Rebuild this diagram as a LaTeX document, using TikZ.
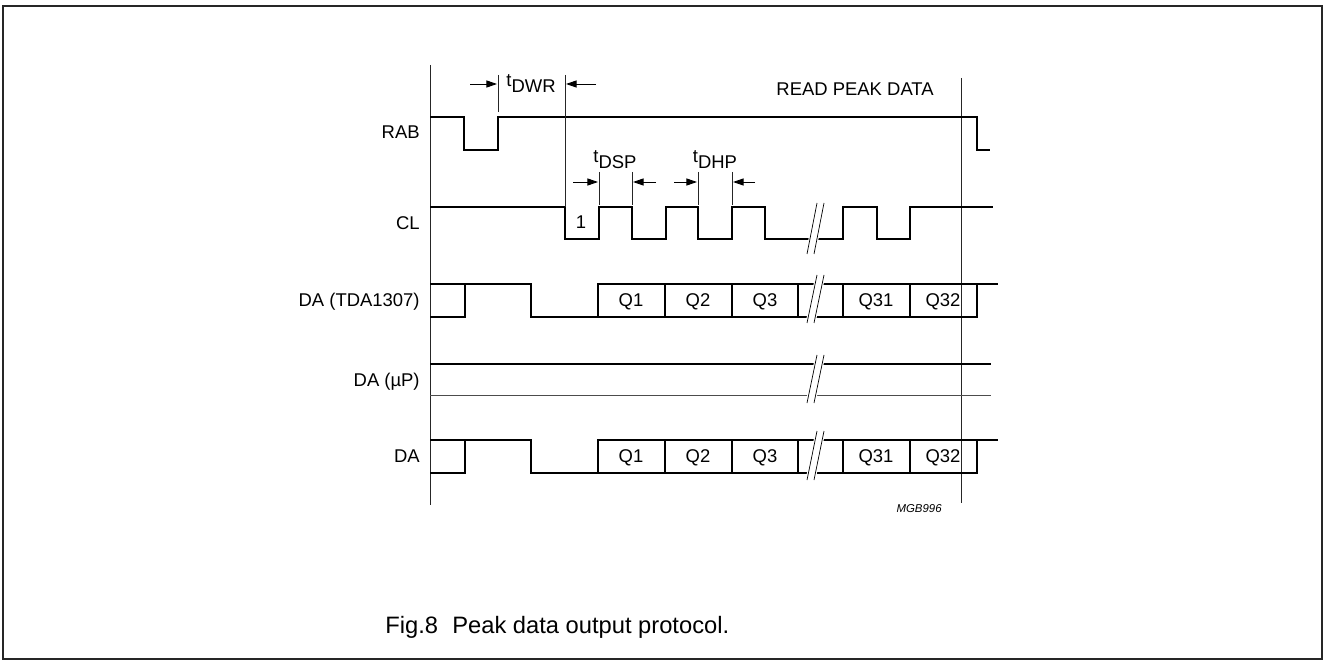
\documentclass[tikz,border=0pt]{standalone}
\usepackage{fontspec}
\setmainfont{Liberation Sans}
\usetikzlibrary{arrows.meta}
% break mark across a signal: x, top, bottom
\newcommand{\sigbreak}[3]{%
  \fill[white] (#1-1.5,#3) -- (#1+8.5,#2) -- (#1+18.5,#2) -- (#1+8.5,#3) -- cycle;
  \draw[thin] (#1,#3) -- (#1+10,#2);
  \draw[thin] (#1+7,#3) -- (#1+17,#2);
}

\begin{document}
\begin{tikzpicture}[
  x=0.02cm,y=-0.02cm,
  sig/.style={line width=1.1pt,line join=miter},
  guide/.style={line width=0.55pt,black!85},
  lbl/.style={font=\fontsize{10.5}{12}\selectfont,anchor=base east,inner sep=0pt},
  cell/.style={font=\fontsize{10.5}{12}\selectfont,anchor=base,inner sep=0pt},
  dim/.style={-{Triangle[length=6pt,width=4pt]},line width=0.55pt},
  tlbl/.style={font=\fontsize{10.5}{12}\selectfont,anchor=base,inner sep=0pt}
]
  \useasboundingbox (0,0) rectangle (1324,662);
  \draw[line width=1.3pt,black!85] (3,6) rectangle (1322,659);
  % Signal names
  \node[lbl] (nrab) at (420,139) {RAB};
  \node[lbl] (ncl) at (420,229) {CL};
  \node[lbl] (ndat) at (420,306) {DA (TDA1307)};
  \node[lbl] (ndap) at (420,386) {DA (µP)};
  \node[lbl] (nda) at (420,462) {DA};
  % Time axes
  \draw[guide] (430,65) -- (430,505);
  \draw[guide] (961,78) -- (961,503);
  % RAB
  \draw[sig] (430,117) -- (464,117) -- (464,150) -- (498,150) -- (498,117) -- (977,117) -- (977,150) -- (990,150);
  % CL
  \draw[sig] (430,207) -- (565,207) -- (565,239) -- (599,239) -- (599,207) -- (632,207) -- (632,239)
    -- (666,239) -- (666,207) -- (698,207) -- (698,239) -- (732,239) -- (732,207) -- (765,207) -- (765,239)
    -- (843,239) -- (843,207) -- (877,207) -- (877,239) -- (910,239) -- (910,207) -- (993,207);
  \node[cell] (one) at (581,228) {1};
  % DA (TDA1307)
  \draw[sig] (430,317) -- (465,317) -- (465,284);
  \draw[sig] (430,284) -- (531,284) -- (531,317) -- (977,317) -- (977,284);
  \draw[sig] (598,317) -- (598,284) -- (998,284);
  \foreach \x in {665,732,798,843,910}
    \draw[sig] (\x,284) -- (\x,317);
  \node[cell] (qa1) at (631,306) {Q1};
  \node[cell] (qa2) at (698,306) {Q2};
  \node[cell] (qa3) at (765,306) {Q3};
  \node[cell] (qa31) at (876,306) {Q31};
  \node[cell] (qa32) at (943,306) {Q32};
  % DA (uP)
  \draw[sig] (430,364) -- (991,364);
  \draw[guide,black!70] (430,395) -- (991,395);
  % DA
  \draw[sig] (430,473) -- (465,473) -- (465,440);
  \draw[sig] (430,440) -- (531,440) -- (531,473) -- (977,473) -- (977,440);
  \draw[sig] (598,473) -- (598,440) -- (998,440);
  \foreach \x in {665,732,798,843,910}
    \draw[sig] (\x,440) -- (\x,473);
  \node[cell] (qb1) at (631,462) {Q1};
  \node[cell] (qb2) at (698,462) {Q2};
  \node[cell] (qb3) at (765,462) {Q3};
  \node[cell] (qb31) at (876,462) {Q31};
  \node[cell] (qb32) at (943,462) {Q32};
  % Breaks
  \sigbreak{807}{203}{254}
  \sigbreak{807}{275}{323}
  \sigbreak{807}{355}{403}
  \sigbreak{807}{431}{480}
  % Timing marks
  \draw[guide] (498,75) -- (498,112);
  \draw[guide] (565,75) -- (565,207);
  \foreach \x in {599,632,698,732}
    \draw[guide] (\x,172) -- (\x,205);
  \coordinate (dwrA) at (470,84);
  \coordinate (dwrB) at (497,84);
  \coordinate (dwrC) at (596,84);
  \coordinate (dwrD) at (566,84);
  \draw[dim] (dwrA) -- (dwrB);
  \draw[dim] (dwrC) -- (dwrD);
  \coordinate (dspA) at (573,182);
  \coordinate (dspB) at (598,182);
  \coordinate (dspC) at (656,182);
  \coordinate (dspD) at (633,182);
  \draw[dim] (dspA) -- (dspB);
  \draw[dim] (dspC) -- (dspD);
  \coordinate (dhpA) at (674,182);
  \coordinate (dhpB) at (697,182);
  \coordinate (dhpC) at (755,182);
  \coordinate (dhpD) at (733,182);
  \draw[dim] (dhpA) -- (dhpB);
  \draw[dim] (dhpC) -- (dhpD);
  \node[tlbl] (tdwr) at (531,87) {t\raisebox{-3pt}{DWR}};
  \node[tlbl] (tdsp) at (615,163) {t\raisebox{-3pt}{DSP}};
  \node[tlbl] (tdhp) at (715,163) {t\raisebox{-3pt}{DHP}};
  \node[lbl] (read) at (934,96) {READ PEAK DATA};
  \node[font=\fontsize{6.5}{8}\selectfont\itshape,anchor=base east,inner sep=0pt] (code) at (942,512) {MGB996};
  % Caption
  \node[font=\fontsize{13.5}{16}\selectfont,anchor=base west,inner sep=0pt] (cap) at (385,633) {Fig.8\hspace{0.6em}Peak data output protocol.};
\end{tikzpicture}
\end{document}
